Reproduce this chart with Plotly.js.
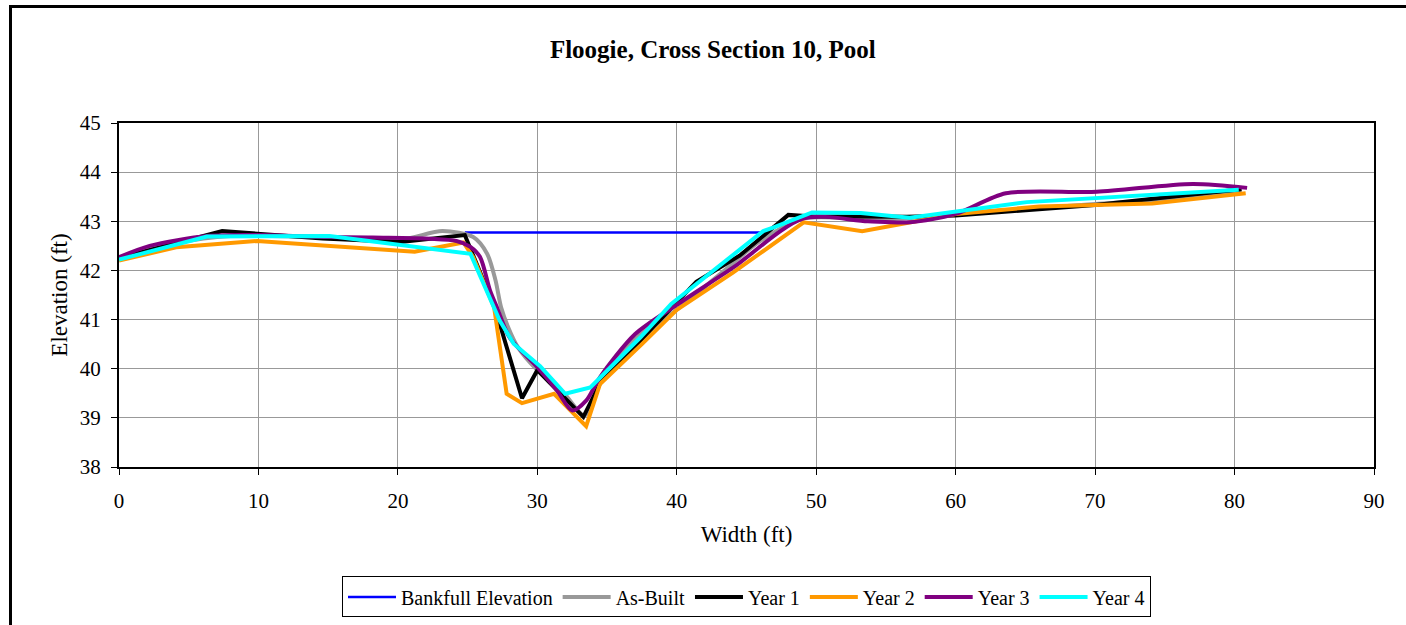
<!DOCTYPE html>
<html>
<head>
<meta charset="utf-8">
<script src="https://cdn.plot.ly/plotly-3.0.1.min.js"></script>
<style>
  html, body { margin: 0; padding: 0; background: #fff; }
  #wrap { position: relative; width: 1406px; height: 625px; overflow: hidden; }
  #chart { width: 1406px; height: 625px; }
  #frame { position: absolute; left: 9px; top: 5px; width: 1420px; height: 640px;
           border-left: 3px solid #000; border-top: 3px solid #000; pointer-events: none; }
</style>
</head>
<body>
<div id="wrap"><div id="chart"></div><div id="frame"></div></div>
<script>
// Bankfull elevation
const bankfullX = [24.8, 46.2];
const bankfullY = [42.77, 42.77];

// As-Built (smoothed)
const asBuiltX = [0, 4, 8, 14, 20.2, 23.2, 25.4, 26.4, 27.0, 27.4, 27.9, 28.6, 30.0, 31.9, 33.4, 34.5, 37, 40, 43, 46, 49, 52, 56, 60, 65, 70, 75, 80.5];
const asBuiltY = [42.25, 42.55, 42.7, 42.68, 42.63, 42.8, 42.68, 42.34, 41.8, 41.25, 40.85, 40.44, 39.97, 39.5, 39.05, 39.75, 40.6, 41.2, 41.9, 42.6, 43.05, 43.07, 43.05, 43.15, 43.25, 43.35, 43.45, 43.62];

// Year 1
const year1X = [0, 7.4, 14.6, 20.2, 24.8, 27.0, 28.9, 30.0, 33.3, 34.5, 37.5, 40.0, 41.4, 44.5, 48.0, 49.5, 56.5, 60, 70, 80.5];
const year1Y = [42.25, 42.8, 42.65, 42.58, 42.72, 41.2, 39.4, 39.97, 39.02, 39.7, 40.6, 41.35, 41.77, 42.3, 43.13, 43.1, 43.09, 43.12, 43.33, 43.65];

// Year 2
const year2X = [0, 4.1, 9.9, 21.2, 24.7, 25.4, 26.9, 27.8, 28.9, 31.2, 33.5, 34.5, 37.5, 40, 44, 49.1, 53.3, 60, 66, 74.1, 80.8];
const year2Y = [42.2, 42.47, 42.6, 42.38, 42.57, 42.27, 41.25, 39.49, 39.3, 39.49, 38.83, 39.69, 40.5, 41.2, 41.95, 42.98, 42.8, 43.15, 43.3, 43.36, 43.57];

// Year 3 (smoothed)
const year3X = [0, 2.2, 6.3, 10, 15, 18.2, 24.2, 25.2, 25.9, 26.6, 27.1, 28.0, 30.0, 31.4, 32.5, 33.5, 34.5, 37, 40, 44, 49.1, 53.7, 56.7, 60, 63.6, 70.1, 77.0, 80.9];
const year3Y = [42.27, 42.5, 42.7, 42.72, 42.68, 42.67, 42.6, 42.48, 42.27, 41.6, 41.25, 40.64, 40.03, 39.56, 39.15, 39.35, 39.83, 40.7, 41.3, 42.05, 43.06, 43.0, 42.98, 43.15, 43.57, 43.6, 43.76, 43.68];

// Year 4
const year4X = [0, 6.3, 15.1, 25.2, 27.3, 28.3, 30.2, 32.0, 33.8, 37.4, 39.6, 46.2, 46.9, 49.7, 53.2, 56.7, 65.1, 80.3];
const year4Y = [42.22, 42.69, 42.7, 42.34, 40.98, 40.51, 40.05, 39.49, 39.62, 40.64, 41.32, 42.8, 42.87, 43.18, 43.17, 43.07, 43.39, 43.64];

const FONT = "'Liberation Serif', 'Times New Roman', serif";

const traces = [
  {x: bankfullX, y: bankfullY, name: 'Bankfull Elevation', mode: 'lines', line: {color: '#0000FF', width: 2.5}},
  {x: asBuiltX, y: asBuiltY, name: 'As-Built', mode: 'lines', line: {color: '#999999', width: 4, shape: 'spline', smoothing: 0.8}},
  {x: year1X, y: year1Y, name: 'Year 1', mode: 'lines', line: {color: '#000000', width: 4}},
  {x: year2X, y: year2Y, name: 'Year 2', mode: 'lines', line: {color: '#FF9900', width: 4}},
  {x: year3X, y: year3Y, name: 'Year 3', mode: 'lines', line: {color: '#800080', width: 4, shape: 'spline', smoothing: 0.8}},
  {x: year4X, y: year4Y, name: 'Year 4', mode: 'lines', line: {color: '#00FFFF', width: 4}}
];

const layout = {
  width: 1406, height: 625,
  margin: {l: 119, r: 32, t: 123, b: 158, autoexpand: false},
  paper_bgcolor: '#ffffff', plot_bgcolor: '#ffffff',
  font: {family: FONT, size: 20, color: '#000'},
  title: {text: '<b>Floogie, Cross Section 10, Pool</b>', font: {family: FONT, size: 25, color: '#000'},
          x: 0.507, xanchor: 'center', y: 0.922, yref: 'container', yanchor: 'middle'},
  showlegend: true,
  legend: {orientation: 'h', x: 0.5, xanchor: 'center', y: -0.318, yanchor: 'top',
           bordercolor: '#000', borderwidth: 1, bgcolor: '#fff',
           font: {family: FONT, size: 20, color: '#000'}, itemwidth: 48, tracegroupgap: 0},
  xaxis: {range: [0, 90], dtick: 10, tick0: 0, showgrid: true, gridcolor: '#999999', gridwidth: 1,
          zeroline: false, showline: true, linecolor: '#000', linewidth: 2, mirror: true,
          ticks: 'outside', ticklen: 6, tickcolor: '#000', tickwidth: 1, automargin: false,
          tickfont: {family: FONT, size: 21, color: '#000'}, ticklabelstandoff: 8,
          title: {text: 'Width (ft)', font: {family: FONT, size: 23, color: '#000'}, standoff: 14}},
  yaxis: {range: [38, 45], dtick: 1, tick0: 38, showgrid: true, gridcolor: '#999999', gridwidth: 1,
          zeroline: false, showline: true, linecolor: '#000', linewidth: 2, mirror: true,
          ticks: 'outside', ticklen: 6, tickcolor: '#000', tickwidth: 1, automargin: false,
          tickfont: {family: FONT, size: 21, color: '#000'}, ticklabelstandoff: 6,
          title: {text: 'Elevation (ft)', font: {family: FONT, size: 23, color: '#000'}, standoff: 6}}
};

Plotly.newPlot('chart', traces, layout, {displayModeBar: false, responsive: false});
</script>
</body>
</html>
